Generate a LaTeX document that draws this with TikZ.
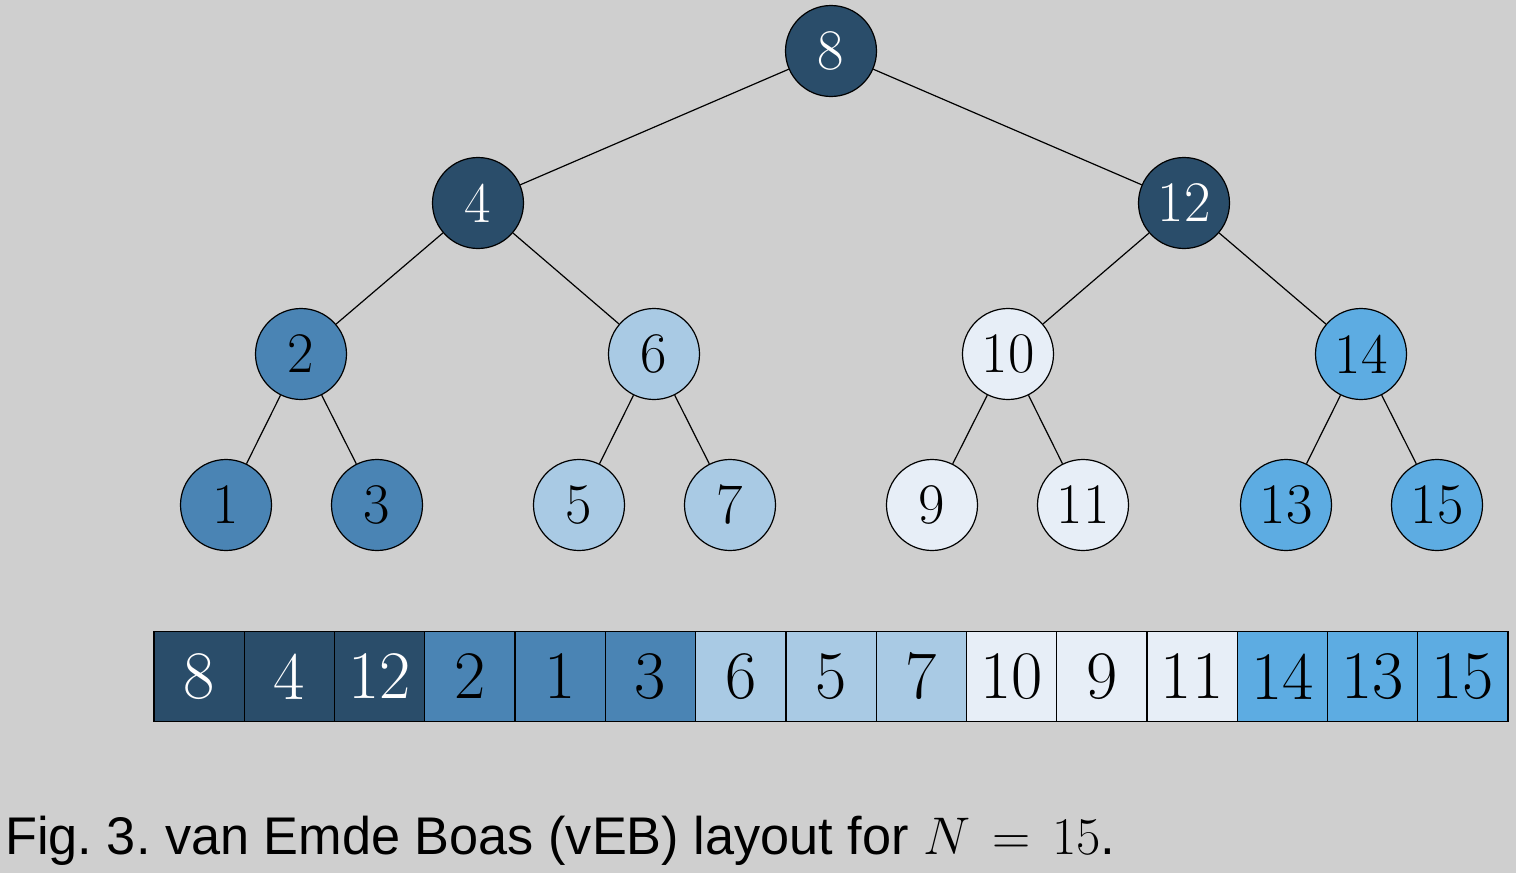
\RequirePackage{fix-cm}
\documentclass[tikz,border=0pt]{standalone}
\usepackage{fontspec}
\newfontfamily\capfont{Liberation Sans}
\definecolor{bg}{HTML}{CFCFCF}
\definecolor{cnavy}{HTML}{2A4D6A}
\definecolor{cmed}{HTML}{4A84B4}
\definecolor{clight}{HTML}{A9CAE4}
\definecolor{cpale}{HTML}{E7EEF7}
\definecolor{cbright}{HTML}{5DACE2}
\tikzset{
  tnode/.style={circle,draw=black,line width=0.6pt,minimum size=45.5pt,inner sep=0pt,font=\fontsize{28.7}{30}\selectfont},
  cell/.style={rectangle,draw=black,line width=0.6pt,minimum width=45.13pt,minimum height=44.8pt,inner sep=0pt,font=\fontsize{34}{36}\selectfont},
  edge/.style={line width=0.6pt,draw=black}
}
\begin{document}
\begin{tikzpicture}[x=0.5pt,y=-0.5pt]
\fill[bg] (0,0) rectangle (1516,873);
\useasboundingbox (0,0) rectangle (1516,873);
% tree nodes
\node[tnode,fill=cnavy,text=white] (n8) at (831,51) {8};
\node[tnode,fill=cnavy,text=white] (n4) at (478,203) {4};
\node[tnode,fill=cnavy,text=white] (n12) at (1184,203) {12};
\node[tnode,fill=cmed] (n2) at (301,354) {2};
\node[tnode,fill=clight] (n6) at (654,354) {6};
\node[tnode,fill=cpale] (n10) at (1008,354) {10};
\node[tnode,fill=cbright] (n14) at (1361,354) {14};
\node[tnode,fill=cmed] (n1) at (226,505) {1};
\node[tnode,fill=cmed] (n3) at (377,505) {3};
\node[tnode,fill=clight] (n5) at (579,505) {5};
\node[tnode,fill=clight] (n7) at (730,505) {7};
\node[tnode,fill=cpale] (n9) at (932,505) {9};
\node[tnode,fill=cpale] (n11) at (1083,505) {11};
\node[tnode,fill=cbright] (n13) at (1286,505) {13};
\node[tnode,fill=cbright] (n15) at (1437,505) {15};
% edges
\draw[edge] (n8) -- (n4);
\draw[edge] (n8) -- (n12);
\draw[edge] (n4) -- (n2);
\draw[edge] (n4) -- (n6);
\draw[edge] (n12) -- (n10);
\draw[edge] (n12) -- (n14);
\draw[edge] (n2) -- (n1);
\draw[edge] (n2) -- (n3);
\draw[edge] (n6) -- (n5);
\draw[edge] (n6) -- (n7);
\draw[edge] (n10) -- (n9);
\draw[edge] (n10) -- (n11);
\draw[edge] (n14) -- (n13);
\draw[edge] (n14) -- (n15);
% array
\foreach \v/\c/\t [count=\i from 0] in {8/cnavy/white,4/cnavy/white,12/cnavy/white,2/cmed/black,1/cmed/black,3/cmed/black,6/clight/black,5/clight/black,7/clight/black,10/cpale/black,9/cpale/black,11/cpale/black,14/cbright/black,13/cbright/black,15/cbright/black}{
  \node[cell,fill=\c,text=\t] (a\i) at ({154+90.27*(\i+0.5)},676.5) {\v};
}
% caption
\node[anchor=base west,inner sep=0pt,font=\capfont\fontsize{26.5}{28}\selectfont] (cap) at (5,854) {\frenchspacing\thickmuskip=7.4mu\scalebox{0.986}[1]{Fig. 3. van Emde Boas (vEB) layout for}\ $N=15$.};
\end{tikzpicture}
\end{document}
